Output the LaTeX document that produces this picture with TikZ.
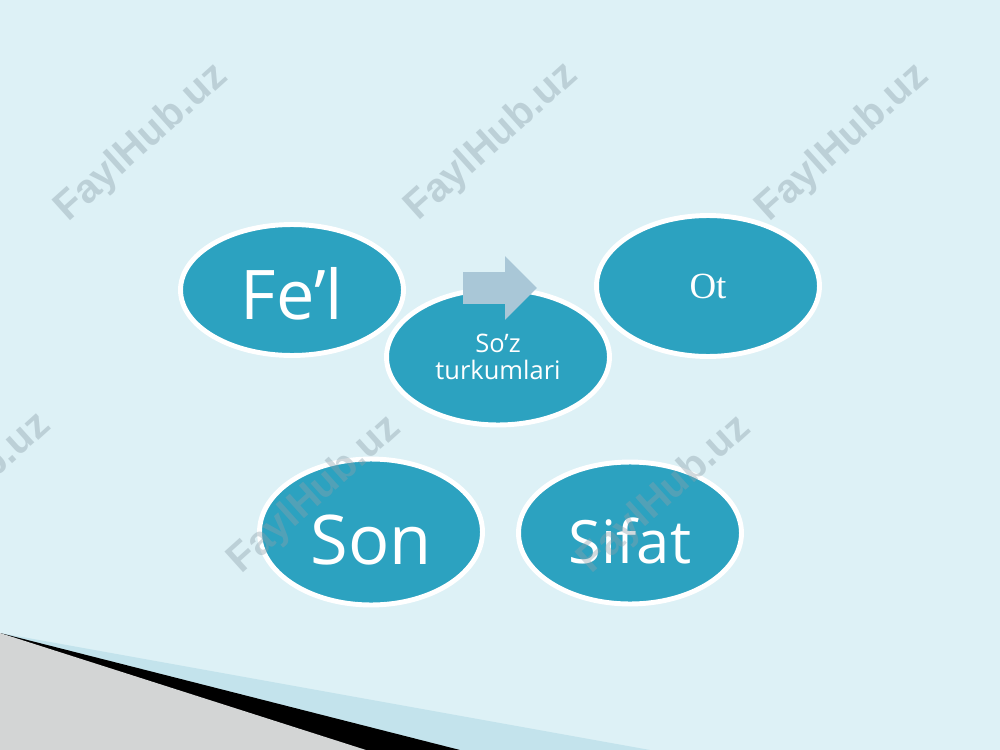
\documentclass[tikz,border=0pt]{standalone}
\usepackage{fontspec}
\setmainfont{Open Sans}
\newfontfamily\otfont{Liberation Serif}
\newfontfamily\wmfont{Liberation Sans}
\usetikzlibrary{positioning}
\usetikzlibrary{arrows.meta}
\usetikzlibrary{shapes.geometric}

\definecolor{bgblue}{RGB}{221,241,246}
\definecolor{blobteal}{RGB}{44,162,192}
\definecolor{arrowblue}{RGB}{169,199,215}
\definecolor{bandblue}{RGB}{195,227,236}
\definecolor{cornergray}{RGB}{211,213,213}
\definecolor{wmgray}{RGB}{140,160,170}

\begin{document}
\begin{tikzpicture}[x=0.02cm, y=-0.02cm,
    blob/.style={ellipse, draw=white, line width=2.8pt, fill=blobteal,
        inner sep=0pt, minimum width=4.46cm, text=white},
    wmark/.style={rotate=42, text=wmgray, opacity=0.4,
        font=\wmfont\bfseries\fontsize{23}{24}\selectfont}]
            \useasboundingbox (0,0) rectangle (1000,750);
            \fill[bgblue] (0,0) rectangle (1000,750);

            % corner at the bottom left
            \fill[bandblue] (0,633) -- (650,750) -- (0,750) -- cycle;
            \fill[black] (0,633) -- (460,750) -- (0,750) -- cycle;
            \fill[cornergray] (0,633) -- (366,750) -- (0,750) -- cycle;

            \node[blob, minimum height=2.62cm, font=\fontsize{39}{40}\selectfont] (fel) at (292,290)
                {\raisebox{-0.08cm}[\height][\depth]{Fe’l}};
            \node[blob, minimum height=2.82cm, font=\otfont\fontsize{21}{22}\selectfont] (ot) at (708,286)
                {Ot};
            \node[blob, minimum height=2.72cm, align=center, font=\fontsize{14.5}{15.5}\selectfont] (soz) at (498,357)
                {So’z\\turkumlari};
            \node[blob, minimum height=2.92cm, font=\fontsize{39}{40}\selectfont] (son) at (371,532)
                {\raisebox{-0.16cm}[\height][\depth]{Son}};
            \node[blob, minimum height=2.84cm, font=\fontsize{34}{35}\selectfont] (sifat) at (630,533)
                {\raisebox{-0.16cm}[\height][\depth]{Sifat}};

            \coordinate (a) at (463,288);
            \coordinate (b) at (537,288);
            \draw[-{Triangle[width=1.24cm,length=0.64cm]}, line width=0.66cm, arrowblue] (a) -- (b);

            \node[wmark] (wm1) at (142,143) {FaylHub.uz};
            \node[wmark] (wm2) at (492,142) {FaylHub.uz};
            \node[wmark] (wm3) at (843,143) {FaylHub.uz};
            \node[wmark] (wm4) at (-35,492) {FaylHub.uz};
            \node[wmark] (wm5) at (315,495) {FaylHub.uz};
            \node[wmark] (wm6) at (665,495) {FaylHub.uz};
        \end{tikzpicture}
\end{document}
